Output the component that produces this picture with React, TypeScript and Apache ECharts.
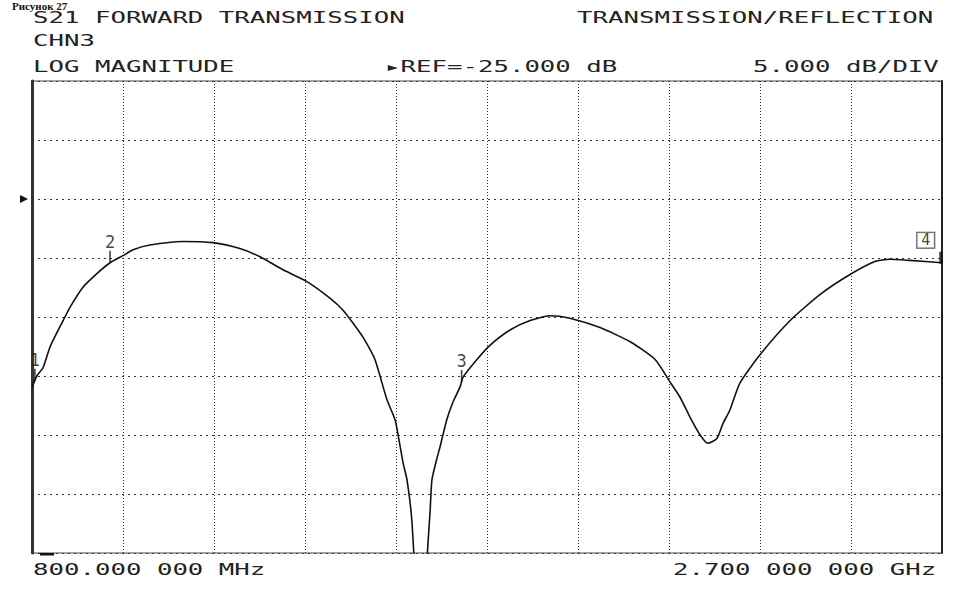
import React, { useEffect, useRef } from 'react';
import * as echarts from 'echarts';

// Trace: S21 forward transmission, frequency in MHz, magnitude in dB
const freqMHz = [
  800, 810, 823, 838, 865, 879, 906, 936, 963, 990, 1011, 1046, 1115, 1178, 1234,
  1276, 1324, 1374, 1422, 1449, 1470, 1491, 1516, 1541, 1558, 1564, 1575, 1583, 1593,
  1610, 1631, 1635, 1646, 1652, 1666, 1679, 1694, 1700, 1729, 1756, 1798, 1840, 1881,
  1923, 1986, 2049, 2101, 2132, 2153, 2174, 2195, 2211, 2230, 2243, 2257, 2278, 2320,
  2383, 2445, 2508, 2560, 2591, 2633, 2700,
];
const s21dB = [
  -41.0, -40.0, -39.3, -37.5, -35.3, -34.2, -32.5, -31.3, -30.4, -29.8, -29.3, -28.9, -28.6, -28.7, -29.2,
  -29.9, -31.0, -32.0, -33.4, -34.4, -35.5, -36.7, -38.6, -42.0, -43.7, -44.9, -47.4, -48.8, -52.2,
  -63.0, -51.6, -48.8, -46.9, -46.0, -43.7, -42.2, -40.9, -40.1, -38.6, -37.4, -36.1, -35.3, -34.9,
  -35.1, -35.9, -37.1, -38.6, -40.5, -41.8, -43.5, -45.0, -45.7, -45.3, -44.0, -42.9, -40.6, -38.2,
  -35.3, -33.1, -31.4, -30.3, -30.1, -30.2, -30.4,
];

// Markers
const markerNames = ['1', '2', '3', '4'];
const markerFreqMHz = [806, 963, 1697, 2700];
const markerDB = [-40.4, -30.4, -40.5, -30.4];

// Axis scale: 5 dB/div, reference -25 dB, 10 horizontal divisions
const yMin = -55;
const yMax = -15;
const yStep = 5;
const refDB = -25;
const fStart = 800;
const fStop = 2700;
const xDivisions = 10;

// Annotation texts: [text, column, row y]
const headerTexts: [string, number, number][] = [
  ['S21 FORWARD TRANSMISSION', 0, 18],
  ['TRANSMISSION/REFLECTION', 34, 18],
  ['CHN3', 0, 41],
  ['LOG MAGNITUDE', 0, 67],
  ['\u25B8REF=-25.000 dB', 22, 67],
  ['5.000 dB/DIV', 45, 67],
  ['800.000 000 MHz', 0, 570],
  ['2.700 000 000 GHz', 40, 570],
];
const captionText = 'Рисунок 27';

const MONO = '"DejaVu Sans Mono", "Liberation Mono", monospace';
const COL0 = 33;
const PITCH = 16;

export default function App() {
  const ref = useRef<HTMLDivElement>(null);

  useEffect(() => {
    const chart = echarts.init(ref.current!, null, { renderer: 'svg' });

    const texts = headerTexts.map(([t, col, y]) => ({
      type: 'text',
      x: COL0 + col * PITCH,
      y,
      scaleX: 1.66,
      silent: true,
      style: {
        text: t,
        font: `15.5px ${MONO}`,
        fill: '#222',
        align: 'left',
        verticalAlign: 'middle',
      },
    }));

    const option: any = {
      animation: false,
      backgroundColor: '#fff',
      grid: {
        left: 32,
        right: 12,
        top: 81,
        bottom: 36,
        show: true,
        borderColor: '#444',
        borderWidth: 1,
      },
      xAxis: [
        {
          type: 'value',
          min: fStart,
          max: fStop,
          axisLine: { show: false },
          axisTick: { show: false },
          axisLabel: { show: false },
          splitLine: { show: false },
        },
        {
          type: 'value',
          min: 0,
          max: xDivisions,
          interval: 1,
          position: 'bottom',
          axisLine: { show: false },
          axisTick: { show: false },
          axisLabel: { show: false },
          splitLine: { show: true, lineStyle: { color: '#333', width: 1, type: [1, 2] } },
        },
      ],
      yAxis: [
        {
          type: 'value',
          min: yMin,
          max: yMax,
          interval: yStep,
          axisLine: { show: true, lineStyle: { color: '#333', width: 3 } },
          axisTick: { show: false },
          axisLabel: { show: false },
          splitLine: { show: true, lineStyle: { color: '#333', width: 1, type: [2, 4] } },
        },
        {
          type: 'value',
          position: 'right',
          min: yMin,
          max: yMax,
          interval: yStep,
          axisLine: { show: true, lineStyle: { color: '#222', width: 2 } },
          axisTick: { show: false },
          axisLabel: { show: false },
          splitLine: { show: false },
        },
      ],
      series: [
        {
          type: 'line',
          xAxisIndex: 0,
          yAxisIndex: 0,
          data: freqMHz.map((f, i) => [f, s21dB[i]]),
          symbol: 'none',
          clip: true,
          smooth: 0.2,
          lineStyle: { color: '#111', width: 1.6 },
          z: 5,
        },
        {
          type: 'scatter',
          xAxisIndex: 0,
          yAxisIndex: 0,
          clip: false,
          symbol: 'rect',
          symbolSize: [1.6, 12],
          symbolOffset: [0, -6],
          itemStyle: { color: '#111' },
          z: 6,
          label: {
            show: true,
            position: 'top',
            distance: 0,
            formatter: (p: any) => p.name,
            fontFamily: MONO,
            fontSize: 17,
            color: '#111',
          },
          data: markerNames.slice(0, 3).map((n, i) => ({ name: n, value: [markerFreqMHz[i], markerDB[i]] })),
        },
        {
          type: 'scatter',
          xAxisIndex: 0,
          yAxisIndex: 0,
          clip: false,
          symbol: 'rect',
          symbolSize: [3.5, 12],
          symbolOffset: [-1, -5],
          itemStyle: { color: '#111' },
          z: 6,
          label: {
            show: true,
            position: [-22, -19],
            formatter: (p: any) => p.name,
            fontFamily: MONO,
            fontSize: 15,
            color: '#111',
            borderColor: '#222',
            borderWidth: 1,
            padding: [0, 4, 0, 4],
            backgroundColor: '#fff',
          },
          data: [{ name: markerNames[3], value: [markerFreqMHz[3], markerDB[3]] }],
        },
      ],
    };

    chart.setOption(option);

    const refY = chart.convertToPixel({ yAxisIndex: 0 }, refDB) as number;
    const bottomY = chart.convertToPixel({ yAxisIndex: 0 }, yMin) as number;

    chart.setOption({
      graphic: [
        ...texts,
        {
          type: 'text',
          x: 12,
          y: 0,
          silent: true,
          style: {
            text: captionText,
            font: 'bold 11px "Liberation Serif", "DejaVu Serif", serif',
            fill: '#111',
            align: 'left',
            verticalAlign: 'top',
          },
        },
        {
          type: 'polygon',
          silent: true,
          shape: { points: [[20, refY - 4], [28, refY], [20, refY + 4]] },
          style: { fill: '#111' },
        },
        {
          type: 'rect',
          silent: true,
          shape: { x: 40, y: bottomY, width: 14, height: 2.5 },
          style: { fill: '#111' },
        },
      ],
    });

    return () => chart.dispose();
  }, []);

  return (
    <div
      ref={ref}
      style={{ position: 'fixed', left: 0, top: 0, width: 954, height: 589, background: '#fff' }}
    />
  );
}
